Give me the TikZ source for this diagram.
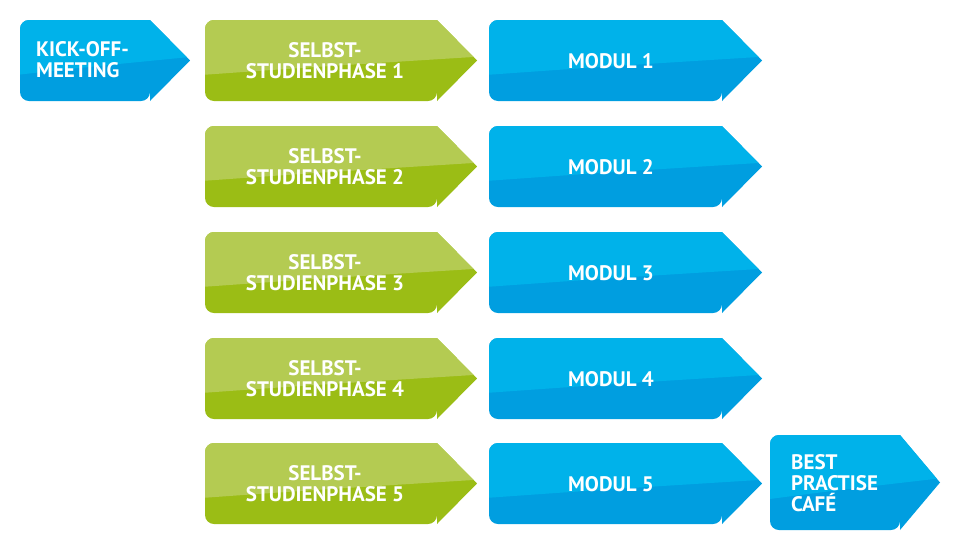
\documentclass[tikz,border=0pt]{standalone}
\usepackage{fontspec}
\setmainfont{PT Sans}
\definecolor{btop}{HTML}{00B2EA}
\definecolor{bbot}{HTML}{009EE0}
\definecolor{gtop}{HTML}{B4CB52}
\definecolor{gbot}{HTML}{9BBD15}
\tikzset{lbl/.style={text=white,font=\bfseries\fontsize{21}{21}\selectfont,align=center,inner sep=0pt}}
\newcommand{\arrbox}[7]{% x1 y1 x2 y2 tipx top bot
  \begin{scope}
  \path[clip,rounded corners=9pt] (#4,#2) -- (#1,#2) -- (#1,{#3}) -- (#4,#3) [sharp corners] -- (#4,#3) -- ({#5},{(#2+#3)/2}) -- (#4,#2) -- cycle;
  \fill[#7] (#1-5,#2-5) rectangle (#5+5,#3+5);
  \fill[#6] (#1-5,#2-5) -- (#1-5,{#2+0.68*(#3-#2)}) .. controls ({#1+0.4*(#5-#1)},{#2+0.58*(#3-#2)}) .. ({#5+5},{#2+0.45*(#3-#2)}) -- (#5+5,#2-5) -- cycle;
  \end{scope}}
\begin{document}
\begin{tikzpicture}[x=1pt,y=-1pt]
\useasboundingbox (0,0) rectangle (964,539);
\arrbox{20}{20}{101}{150}{190}{btop}{bbot}
\node[lbl,align=left,anchor=west] (kick) at (36,60) {KICK-OFF-\\MEETING};
\foreach \i/\y in {1/20,2/126,3/232,4/338,5/443}{
  \pgfmathsetmacro{\yb}{\y+81}
  \arrbox{205}{\y}{\yb}{437}{477}{gtop}{gbot}
  \arrbox{489}{\y}{\yb}{722}{762}{btop}{bbot}
  \node[lbl] (s\i) at (325,\y+41) {SELBST-\\STUDIENPHASE \i};
  \node[lbl] (m\i) at (611,\y+41) {MODUL \i};
}
\arrbox{770}{435}{530}{900}{940}{btop}{bbot}
\node[lbl,align=left,anchor=west] (best) at (791,483) {BEST\\PRACTISE\\CAFÉ};
\end{tikzpicture}
\end{document}
